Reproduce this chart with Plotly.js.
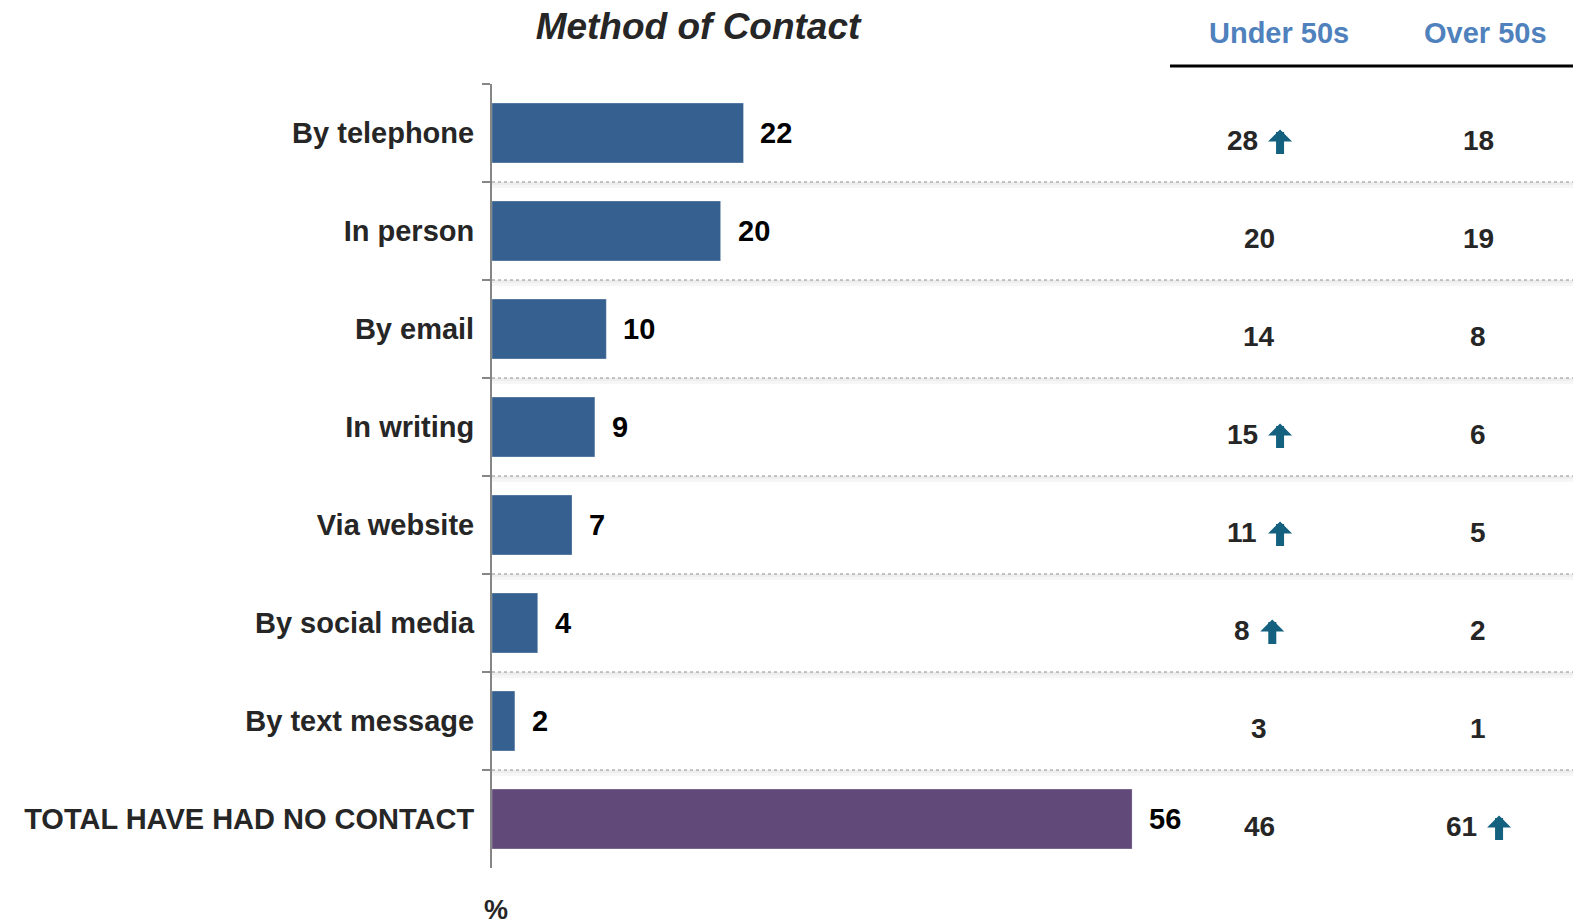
<!DOCTYPE html>
<html>
<head>
<meta charset="utf-8">
<script src="https://cdn.plot.ly/plotly-3.0.1.min.js"></script>
<style>html,body{margin:0;padding:0;background:#fff;}#chart{width:1573px;height:924px;}</style>
</head>
<body>
<div id="chart"></div>
<script>
// ---- Data ----
const categories = ['By telephone', 'In person', 'By email', 'In writing', 'Via website', 'By social media', 'By text message', 'TOTAL HAVE HAD NO CONTACT'];
const values = [22, 20, 10, 9, 7, 4, 2, 56];
const under50 = [28, 20, 14, 15, 11, 8, 3, 46];
const over50 = [18, 19, 8, 6, 5, 2, 1, 61];
const under50Up = [true, false, false, true, true, true, false, false];
const over50Up = [false, false, false, false, false, false, false, true];
const columnHeaders = ['Under 50s', 'Over 50s'];
const chartTitle = 'Method of Contact';

// ---- Style ----
const FONT = 'Liberation Sans, Arial, sans-serif';
const barColors = values.map((v, i) => i === categories.length - 1 ? '#614A7A' : '#36608F');
const W = 1573, H = 924, ML = 492, MR = 0, MT = 84, MB = 56;
const plotW = W - ML - MR, plotH = H - MT - MB;
const pxPerUnit = 11.43;
const xMax = plotW / pxPerUnit;
const px2paperX = p => (p - ML) / plotW;
const px2paperY = p => 1 - (p - MT) / plotH;

const colCenters = [px2paperX(1259), px2paperX(1478)];
const headerCenters = [px2paperX(1279), px2paperX(1485)];
const arrowColor = '#13607F';
const numFontSize = 28, digitW = 0.556 * numFontSize, gap = 11, arrowW = 23;

const annotations = [];
// bar value labels
values.forEach((v, i) => {
  annotations.push({x: v, y: categories[i], xref: 'x', yref: 'y', text: String(v), showarrow: false,
    xanchor: 'left', xshift: 15, yanchor: 'middle',
    font: {family: FONT, size: 29, color: '#000000', weight: 'bold'}});
});
// table values
[under50, over50].forEach((col, c) => {
  const ups = c === 0 ? under50Up : over50Up;
  col.forEach((v, i) => {
    const s = String(v);
    const tw = s.length * digitW;
    let numShift = 0, arrowShift = 0;
    if (ups[i]) {
      const total = tw + gap + arrowW;
      const start = -total / 2;
      numShift = start + tw / 2;
      arrowShift = start + tw + gap + arrowW / 2;
    }
    annotations.push({x: colCenters[c], y: categories[i], xref: 'paper', yref: 'y', text: s, showarrow: false,
      xanchor: 'center', yanchor: 'middle', xshift: numShift, yshift: -7,
      font: {family: FONT, size: numFontSize, color: '#262626', weight: 'bold'}});
    if (ups[i]) {
      annotations.push({x: colCenters[c], y: categories[i], xref: 'paper', yref: 'y', text: '',
        showarrow: true, axref: 'pixel', ayref: 'pixel', ax: 0, ay: 26,
        arrowhead: 1, arrowwidth: 8, arrowsize: 0.5, arrowcolor: arrowColor, standoff: 0, startstandoff: 0,
        xshift: arrowShift, yshift: 3.5});
    }
  });
});
// headers
columnHeaders.forEach((h, c) => {
  annotations.push({x: headerCenters[c], y: px2paperY(33), xref: 'paper', yref: 'paper', text: h, showarrow: false,
    xanchor: 'center', yanchor: 'middle',
    font: {family: FONT, size: 29, color: '#4F81BD', weight: 'bold'}});
});
// percent sign
annotations.push({x: px2paperX(496), y: px2paperY(910), xref: 'paper', yref: 'paper', text: '%', showarrow: false,
  xanchor: 'center', yanchor: 'middle', font: {family: FONT, size: 27, color: '#262626', weight: 'bold'}});

const shapes = [];
for (let i = 0; i < categories.length - 1; i++) {
  shapes.push({type: 'rect', xref: 'paper', yref: 'y', x0: 0, x1: 1, y0: i + 0.5, y1: i + 0.56,
    fillcolor: 'rgba(0,0,0,0.035)', line: {width: 0}, layer: 'below'});
  shapes.push({type: 'rect', xref: 'paper', yref: 'y', x0: 0, x1: 1, y0: i + 0.5, y1: i + 0.53,
    fillcolor: 'rgba(0,0,0,0.03)', line: {width: 0}, layer: 'below'});
  shapes.push({type: 'line', xref: 'paper', yref: 'y', x0: 0, x1: 1, y0: i + 0.5, y1: i + 0.5,
    line: {color: '#8C8C8C', width: 1, dash: 'dot'}, layer: 'below'});
}
// header underline
shapes.push({type: 'line', xref: 'paper', yref: 'paper', x0: px2paperX(1170), x1: 1, y0: px2paperY(66), y1: px2paperY(66),
  line: {color: '#000000', width: 3}});

const trace = {
  type: 'bar', orientation: 'h', x: values, y: categories,
  marker: {color: barColors, line: {color: 'rgba(255,255,255,0.25)', width: 1}},
  width: 0.61, hoverinfo: 'none', cliponaxis: false
};

const layout = {
  width: W, height: H,
  margin: {l: ML, r: MR, t: MT, b: MB, pad: 0},
  paper_bgcolor: '#ffffff', plot_bgcolor: 'rgba(0,0,0,0)',
  showlegend: false,
  title: {text: '<i><b>' + chartTitle + '</b></i>', xref: 'paper', x: px2paperX(698), xanchor: 'center',
    yref: 'container', y: 1 - 26 / H, yanchor: 'middle',
    font: {family: FONT, size: 37, color: '#262626'}},
  xaxis: {range: [0, xMax], visible: false, fixedrange: true},
  yaxis: {type: 'category', categoryorder: 'array', categoryarray: categories, range: [categories.length - 0.5, -0.5],
    showline: true, linecolor: '#868686', linewidth: 2, ticks: 'outside', tickson: 'boundaries', ticklen: 8,
    tickcolor: '#868686', tickwidth: 2, showgrid: false, zeroline: false, ticklabelstandoff: 10,
    tickfont: {family: FONT, size: 29, color: '#262626', weight: 'bold'}, fixedrange: true},
  annotations: annotations,
  shapes: shapes,
  bargap: 0.39
};

Plotly.newPlot('chart', [trace], layout, {displayModeBar: false, staticPlot: true});
</script>
</body>
</html>
